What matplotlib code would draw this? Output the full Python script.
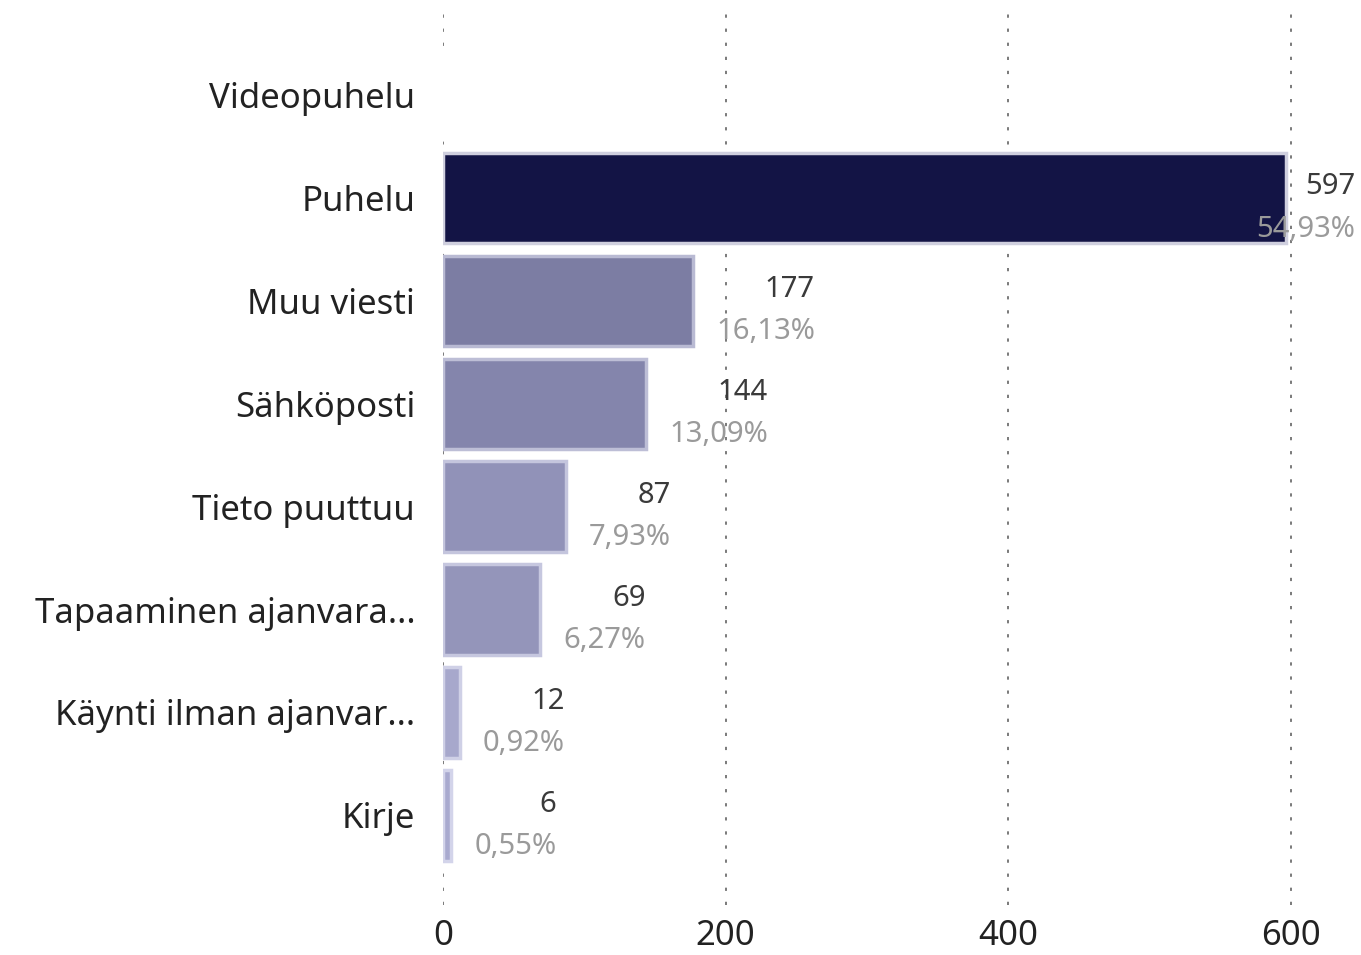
import matplotlib.pyplot as plt

categories = ['Videopuhelu', 'Puhelu', 'Muu viesti', 'Sähköposti', 'Tieto puuttuu',
              'Tapaaminen ajanvara...', 'Käynti ilman ajanvar...', 'Kirje']
counts = [0, 597, 177, 144, 87, 69, 12, 6]
count_labels = ['', '597', '177', '144', '87', '69', '12', '6']
pct_labels = ['', '54,93%', '16,13%', '13,09%', '7,93%', '6,27%', '0,92%', '0,55%']
colors = ['#FFFFFF', '#131445', '#7C7DA3', '#8485AC', '#9192B8', '#9495BA', '#A7A8CC', '#A9AACF']
edges = ['#FFFFFF', '#CFCFDE', '#B9BAD3', '#BDBED6', '#C4C5DD', '#C6C7DF', '#CFD0E6', '#D3D4EA']

plt.rcParams['font.family'] = ['Noto Sans', 'DejaVu Sans']

fig = plt.figure(figsize=(13.61, 9.55), dpi=100)
ax = fig.add_axes([0.3255, 0.052, 0.969 - 0.3255, 0.933])

y = list(range(len(categories)))
ax.barh(y, counts, height=0.88, color=colors, edgecolor=edges, linewidth=2.5, zorder=2)

ax.set_xlim(0, 620)
ax.set_ylim(7.875, -0.787)
ax.set_xticks([0, 200, 400, 600])
ax.set_yticks(y)
ax.set_yticklabels(categories, fontsize=25, color='#222222')
ax.tick_params(axis='x', labelsize=25, labelcolor='#222222', length=0, pad=10)
ax.tick_params(axis='y', length=0, pad=20)
ax.grid(axis='x', linestyle=(0, (1.8, 6)), color='#6f6f6f', linewidth=1.3, zorder=0)
for s in ax.spines.values():
    s.set_visible(False)

# value labels: a block starting just past the bar end, both lines right-aligned
fig.canvas.draw()
renderer = fig.canvas.get_renderer()
max_px = 1355
for i, v in enumerate(counts):
    if not count_labels[i]:
        continue
    left = ax.transData.transform((v, 0))[0] + 23
    xl = ax.transData.inverted().transform((left, 0))[0]
    t = ax.text(xl, i + 0.3, pct_labels[i], ha='left', va='center', fontsize=21,
                color='#9a9a9a', zorder=3, clip_on=False)
    w = t.get_window_extent(renderer).width
    right = min(left + w, max_px)
    xr = ax.transData.inverted().transform((right, 0))[0]
    t.set_x(xr)
    t.set_horizontalalignment('right')
    ax.text(xr, i - 0.11, count_labels[i], ha='right', va='center', fontsize=21,
            color='#3a3a3a', zorder=3, clip_on=False)

fig.savefig('out.png', dpi=100)
